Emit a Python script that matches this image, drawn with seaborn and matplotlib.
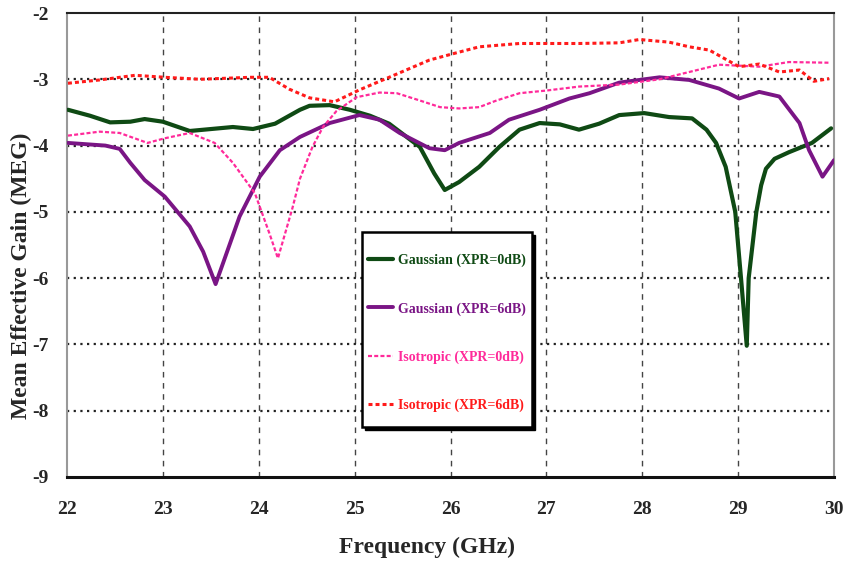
import matplotlib
matplotlib.use("Agg")
import matplotlib.pyplot as plt
import seaborn as sns
import pandas as pd
from matplotlib.lines import Line2D
from matplotlib.patches import Rectangle
import matplotlib.transforms as mtransforms

# ---- data ----
freq_g0 = [22.01, 22.24, 22.45, 22.66, 22.81, 23.0, 23.28, 23.73, 23.94, 24.17, 24.43, 24.53, 24.74,
           24.95, 25.16, 25.36, 25.68, 25.83, 25.94, 26.09, 26.30, 26.51, 26.72, 26.93, 27.14, 27.34,
           27.55, 27.76, 28.02, 28.28, 28.52, 28.67, 28.77, 28.87, 28.97, 29.03, 29.09, 29.11, 29.19,
           29.24, 29.29, 29.38, 29.53, 29.77, 29.97]
meg_g0 = [-3.46, -3.55, -3.65, -3.64, -3.60, -3.64, -3.78, -3.72, -3.75, -3.67, -3.46, -3.40, -3.39,
          -3.46, -3.55, -3.67, -4.02, -4.42, -4.67, -4.55, -4.32, -4.02, -3.76, -3.66, -3.68, -3.76,
          -3.67, -3.54, -3.51, -3.57, -3.59, -3.76, -3.96, -4.32, -5.00, -6.00, -7.02, -6.00, -5.00,
          -4.60, -4.35, -4.20, -4.10, -3.96, -3.74]

freq_g6 = [22.01, 22.40, 22.55, 22.66, 22.81, 23.02, 23.28, 23.42, 23.55, 23.80, 24.01, 24.22, 24.43,
           24.74, 25.05, 25.26, 25.47, 25.78, 25.94, 26.09, 26.41, 26.61, 26.93, 27.24, 27.45, 27.76,
           28.18, 28.49, 28.80, 29.01, 29.22, 29.43, 29.64, 29.74, 29.88, 30.0]
meg_g6 = [-3.96, -4.00, -4.05, -4.26, -4.52, -4.77, -5.22, -5.60, -6.09, -5.07, -4.47, -4.07, -3.87,
          -3.66, -3.54, -3.61, -3.81, -4.04, -4.07, -3.96, -3.81, -3.61, -3.46, -3.29, -3.21, -3.05,
          -2.97, -3.01, -3.14, -3.29, -3.19, -3.26, -3.66, -4.07, -4.47, -4.22]

freq_i0 = [22.01, 22.34, 22.55, 22.84, 23.02, 23.28, 23.54, 23.73, 23.96, 24.11, 24.20, 24.27, 24.35,
           24.43, 24.56, 24.67, 24.81, 25.02, 25.26, 25.44, 25.68, 25.89, 26.09, 26.30, 26.48, 26.72,
           27.0, 27.34, 27.76, 28.18, 28.49, 28.80, 29.22, 29.53, 29.95]
meg_i0 = [-3.85, -3.79, -3.81, -3.96, -3.89, -3.81, -3.96, -4.26, -4.72, -5.32, -5.70, -5.35, -4.95,
          -4.50, -4.02, -3.72, -3.48, -3.27, -3.20, -3.21, -3.32, -3.42, -3.44, -3.42, -3.32, -3.21,
          -3.17, -3.11, -3.08, -3.00, -2.89, -2.78, -2.81, -2.74, -2.75]

freq_i6 = [22.01, 22.34, 22.71, 23.02, 23.39, 23.91, 24.11, 24.32, 24.53, 24.79, 25.05, 25.36, 25.78,
           26.09, 26.30, 26.72, 27.34, 27.76, 27.97, 28.28, 28.49, 28.70, 28.91, 29.01, 29.22, 29.43,
           29.64, 29.79, 29.95]
meg_i6 = [-3.06, -3.01, -2.94, -2.97, -3.00, -2.97, -2.97, -3.15, -3.28, -3.34, -3.16, -2.97, -2.71,
          -2.59, -2.51, -2.46, -2.46, -2.45, -2.40, -2.44, -2.51, -2.56, -2.73, -2.81, -2.77, -2.89,
          -2.86, -3.03, -2.99]

series_names = ["Gaussian (XPR=0dB)", "Gaussian (XPR=6dB)", "Isotropic (XPR=0dB)", "Isotropic (XPR=6dB)"]
x_ticks = [22, 23, 24, 25, 26, 27, 28, 29, 30]
y_ticks = [-9, -8, -7, -6, -5, -4, -3, -2]

# ---- styling ----
sns.set_style("white")
plt.rcParams['font.family'] = ['Liberation Serif', 'DejaVu Serif']
plt.rcParams['font.weight'] = 'bold'

colors = ["#0f4a14", "#7a1585", "#ff2a9a", "#ff1a1a"]
styles = ["-", "-", (0, (1.8, 1.0)), (0, (1.3, 1.0))]
widths = [3.0, 2.8, 1.6, 2.2]

fig = plt.figure(figsize=(8.44, 5.63), dpi=100)
ax = fig.add_axes([67/844, 1-477/563, (834-67)/844, (477-13)/563])

data_sets = [(freq_g0, meg_g0), (freq_g6, meg_g6), (freq_i0, meg_i0), (freq_i6, meg_i6)]
for (fx, fy), name, c, ls, lw in zip(data_sets, series_names, colors, styles, widths):
    df = pd.DataFrame({"Frequency": fx, "MEG": fy})
    sns.lineplot(data=df, x="Frequency", y="MEG", ax=ax, color=c, linestyle=ls,
                 linewidth=lw, sort=False, estimator=None, legend=False, zorder=3)

ax.set_xlim(22, 30)
ax.set_ylim(-9, -2)
ax.set_xticks(x_ticks)
ax.set_yticks(y_ticks)
ax.set_xticklabels([str(v) for v in x_ticks], fontsize=14, fontweight='bold')
ax.set_yticklabels([str(v) for v in y_ticks], fontsize=14, fontweight='bold')
ax.tick_params(axis='both', direction='out', length=4, width=1, color='#555555')
ax.tick_params(axis='x', pad=13)
ax.tick_params(axis='y', pad=9)

# grid
for xv in x_ticks[1:-1]:
    ax.axvline(xv, color='#444444', linestyle=(0, (4, 4)), linewidth=1.0, zorder=1)
for yv in y_ticks[1:-1]:
    ax.axhline(yv, color='#222222', linestyle=(0, (1, 2)), linewidth=1.6, zorder=1)

for side in ['left', 'right']:
    ax.spines[side].set_color('#999999')
    ax.spines[side].set_linewidth(1.5)
ax.spines['top'].set_color('#222222')
ax.spines['top'].set_linewidth(1.5)
ax.spines['bottom'].set_color('#111111')
ax.spines['bottom'].set_linewidth(2.2)

ax.set_xlabel("Frequency (GHz)", fontsize=17, fontweight='bold')
ax.set_ylabel("Mean Effective Gain (MEG)", fontsize=17, fontweight='bold')
ax.xaxis.set_label_coords(0.469, -0.128)
ax.yaxis.set_label_coords(-0.045, 0.433)

# legend box (frame with black drop shadow)
bx0, bx1 = (362-67)/767, (532-67)/767
by0, by1 = (477-427)/464, (477-232)/464
shadow_tr = ax.transAxes + mtransforms.ScaledTranslation(3/100, -3/100, fig.dpi_scale_trans)
ax.add_patch(Rectangle((bx0, by0), bx1-bx0, by1-by0, transform=shadow_tr,
                       facecolor='black', edgecolor='black', zorder=4))
ax.add_patch(Rectangle((bx0, by0), bx1-bx0, by1-by0, transform=ax.transAxes,
                       facecolor='white', edgecolor='black', linewidth=1.8, zorder=4.5))

handles = [Line2D([0], [0], color=c, linestyle=ls, linewidth=lw)
           for c, ls, lw in zip(colors, styles, widths)]
leg = ax.legend(handles, series_names, loc='upper left', bbox_to_anchor=(0.392, 0.481),
                frameon=False, fontsize=10, labelspacing=2.5,
                handlelength=1.8, handletextpad=0.4, borderpad=0.0, borderaxespad=0.0)
leg.set_zorder(6)
for t, c in zip(leg.get_texts(), colors):
    t.set_color(c)

fig.savefig("out.png", dpi=100)
